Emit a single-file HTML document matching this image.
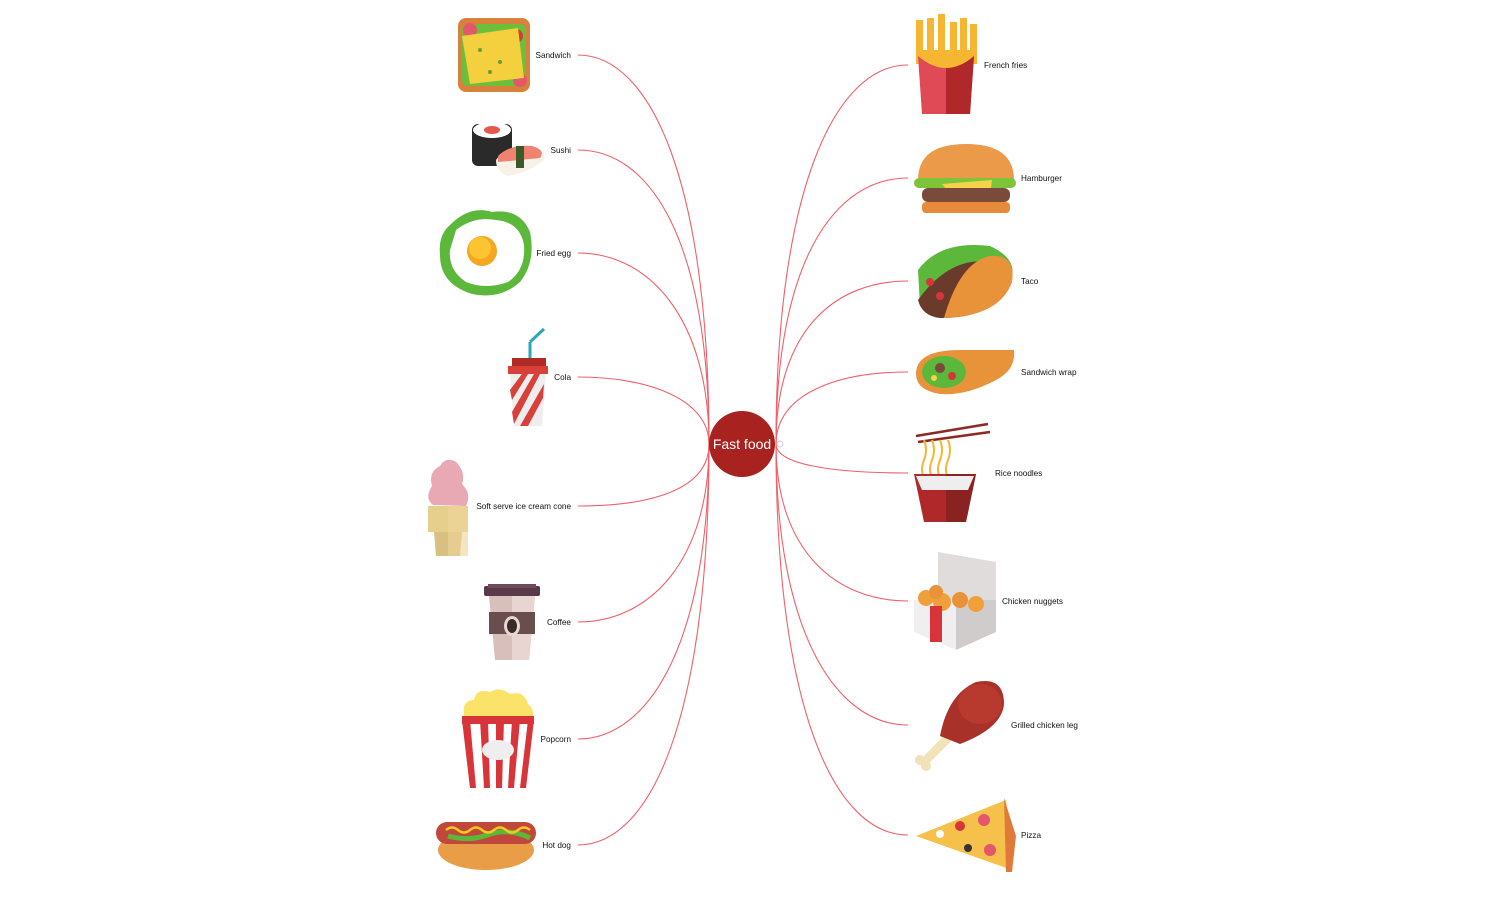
<!DOCTYPE html>
<html><head><meta charset="utf-8"><style>
html,body{margin:0;padding:0;background:#fff;}
svg{display:block;font-family:"Liberation Sans",Arial,sans-serif;}
.l{font-size:8.2px;fill:#111;}
.c{fill:none;stroke:#f0606a;stroke-width:1.1;}
</style></head><body>
<svg width="1500" height="903" viewBox="0 0 1500 903" xmlns="http://www.w3.org/2000/svg">
<g class="c">
<path d="M578,55 C650,55 709,180 709,444"/>
<path d="M578,150 C650,150 709,240 709,444"/>
<path d="M578,253 C650,253 709,320 709,444"/>
<path d="M578,377 C650,377 709,400 709,444"/>
<path d="M578,506 C650,506 709,490 709,444"/>
<path d="M578,622 C650,622 709,560 709,444"/>
<path d="M578,739 C650,739 709,640 709,444"/>
<path d="M578,845 C650,845 709,720 709,444"/>
<path d="M908,65 C835,65 776,190 776,444"/>
<path d="M908,178 C835,178 776,260 776,444"/>
<path d="M908,281 C835,281 776,330 776,444"/>
<path d="M908,372 C835,372 776,395 776,444"/>
<path d="M908,473 C835,473 776,465 776,444"/>
<path d="M908,601 C835,601 776,550 776,444"/>
<path d="M908,725 C835,725 776,630 776,444"/>
<path d="M908,835 C835,835 776,710 776,444"/>
</g>
<circle cx="742" cy="444" r="33" fill="#a8221f"/>
<text x="742" y="449" text-anchor="middle" font-size="14" fill="#fff">Fast food</text>
<circle cx="780" cy="444" r="3" fill="none" stroke="#bbb" stroke-width="0.8"/>

<g class="l">
<text x="571" y="58" text-anchor="end">Sandwich</text>
<text x="571" y="153" text-anchor="end">Sushi</text>
<text x="571" y="256" text-anchor="end">Fried egg</text>
<text x="571" y="380" text-anchor="end">Cola</text>
<text x="571" y="509" text-anchor="end">Soft serve ice cream cone</text>
<text x="571" y="625" text-anchor="end">Coffee</text>
<text x="571" y="742" text-anchor="end">Popcorn</text>
<text x="571" y="848" text-anchor="end">Hot dog</text>
<text x="984" y="68">French fries</text>
<text x="1021" y="181">Hamburger</text>
<text x="1021" y="284">Taco</text>
<text x="1021" y="375">Sandwich wrap</text>
<text x="995" y="476">Rice noodles</text>
<text x="1002" y="604">Chicken nuggets</text>
<text x="1011" y="728">Grilled chicken leg</text>
<text x="1021" y="838">Pizza</text>
</g>

<!-- Sandwich -->
<g>
<rect x="458" y="18" width="72" height="74" rx="8" fill="#d9803c"/>
<rect x="462" y="24" width="64" height="62" rx="6" fill="#6bbf3a"/>
<circle cx="470" cy="30" r="7" fill="#e4576a"/><circle cx="520" cy="80" r="7" fill="#e4576a"/><circle cx="516" cy="36" r="7" fill="#d23c3c"/>
<polygon points="462,36 518,28 524,78 470,84" fill="#f4d03f"/>
<circle cx="480" cy="50" r="2" fill="#6a9e2c"/><circle cx="500" cy="62" r="2" fill="#6a9e2c"/><circle cx="490" cy="72" r="2" fill="#6a9e2c"/>
</g>
<!-- Sushi -->
<g>
<rect x="472" y="124" width="40" height="42" rx="6" fill="#2a2a2a"/>
<ellipse cx="492" cy="130" rx="19" ry="8" fill="#fff"/>
<ellipse cx="492" cy="130" rx="8" ry="4" fill="#e4574a"/>
<path d="M496,160 Q505,146 530,146 Q546,150 544,160 Q530,172 508,176 Q496,172 496,160Z" fill="#f7f1e8"/>
<path d="M498,156 Q510,144 532,146 Q546,150 540,158 Q520,160 498,162Z" fill="#f08270"/>
<rect x="516" y="146" width="8" height="22" fill="#3a5a2a"/>
</g>
<!-- Fried egg -->
<g>
<path d="M450,225 Q470,205 492,212 Q520,208 530,232 Q536,262 520,282 Q500,300 472,294 Q440,284 440,255 Q438,235 450,225Z" fill="#5cb83a"/>
<path d="M456,230 Q474,216 496,220 Q520,222 524,245 Q526,270 508,282 Q486,290 466,282 Q448,270 450,250Z" fill="#fff"/>
<circle cx="482" cy="251" r="15" fill="#f5a623"/><circle cx="480" cy="248" r="11" fill="#fcc431"/>
</g>
<!-- Cola -->
<g>
<line x1="530" y1="360" x2="530" y2="342" stroke="#2aa7b8" stroke-width="3"/>
<line x1="530" y1="342" x2="544" y2="329" stroke="#2aa7b8" stroke-width="3"/>
<rect x="512" y="358" width="34" height="8" fill="#b02a26"/>
<rect x="508" y="366" width="40" height="8" fill="#d8403a"/>
<polygon points="510,374 546,374 542,426 514,426" fill="#eee"/>
<polygon points="510,390 522,374 528,374 512,400" fill="#d8403a"/>
<polygon points="512,412 534,374 540,374 514,424" fill="#d8403a"/>
<polygon points="520,426 544,384 543,398 528,426" fill="#d8403a"/>
</g>
<!-- Ice cream -->
<g>
<path d="M433,505 Q424,498 432,486 Q428,472 440,466 Q446,456 456,462 Q466,472 462,484 Q472,494 466,506Z" fill="#e8a8b4"/>
<rect x="428" y="506" width="40" height="26" fill="#e6cf8c"/>
<polygon points="434,532 462,532 460,556 436,556" fill="#d8c080"/>
<rect x="448" y="506" width="20" height="50" fill="#ecd59a" opacity="0.6"/>
</g>
<!-- Coffee -->
<g>
<rect x="484" y="586" width="56" height="10" rx="2" fill="#5a3a4a"/>
<rect x="488" y="584" width="48" height="4" fill="#6e4a5a"/>
<polygon points="489,596 535,596 529,660 495,660" fill="#d8bfbc"/>
<polygon points="512,596 535,596 529,660 512,660" fill="#e8d4d0"/>
<rect x="489" y="612" width="46" height="22" fill="#6a4e4e"/>
<ellipse cx="512" cy="626" rx="8" ry="10" fill="#e8d8d0"/>
<ellipse cx="512" cy="626" rx="5" ry="7" fill="#3a2a2a"/>
</g>
<!-- Popcorn -->
<g>
<path d="M464,714 Q462,700 474,700 Q476,688 490,692 Q500,686 510,694 Q524,690 528,704 Q536,710 532,720 L464,720Z" fill="#fbe36a"/>
<polygon points="462,720 534,720 526,788 470,788" fill="#fff"/>
<g fill="#d8353a"><polygon points="462,720 470,720 476,788 470,788"/><polygon points="480,720 488,720 490,788 484,788"/><polygon points="496,720 504,720 502,788 496,788"/><polygon points="512,720 520,720 514,788 508,788"/><polygon points="528,720 534,720 526,788 520,788"/></g>
<rect x="462" y="716" width="72" height="8" fill="#d8353a"/>
<ellipse cx="498" cy="750" rx="16" ry="10" fill="#eee"/>
</g>
<!-- Hot dog -->
<g>
<ellipse cx="486" cy="850" rx="48" ry="20" fill="#e99d47"/>
<rect x="436" y="822" width="100" height="22" rx="11" fill="#c0473a"/>
<path d="M448,836 Q470,842 490,834 Q510,828 530,838" fill="none" stroke="#5cb83a" stroke-width="5"/>
<path d="M446,830 q6,-5 12,0 t12,0 t12,0 t12,0 t12,0 t12,0 t12,0" fill="none" stroke="#f7c81e" stroke-width="2.5"/>
</g>

<!-- French fries -->
<g>
<g fill="#f6b631"><rect x="916" y="20" width="7" height="44"/><rect x="927" y="18" width="7" height="46"/><rect x="938" y="14" width="7" height="50"/><rect x="950" y="22" width="7" height="42"/><rect x="960" y="18" width="7" height="46"/><rect x="970" y="24" width="7" height="40"/></g>
<polygon points="918,56 974,56 970,114 922,114" fill="#e04a56"/>
<polygon points="946,56 974,56 970,114 946,114" fill="#b0282a"/>
<path d="M918,56 Q946,80 974,56 L974,50 L918,50Z" fill="#f6b631"/>
</g>
<!-- Hamburger -->
<g>
<path d="M918,180 Q918,144 966,144 Q1014,144 1014,180Z" fill="#eb9a4a"/>
<rect x="914" y="178" width="102" height="10" rx="5" fill="#7cc53a"/>
<polygon points="942,184 992,180 990,196 950,194" fill="#f6d14a"/>
<rect x="922" y="188" width="88" height="14" rx="6" fill="#7a4a3a"/>
<rect x="922" y="202" width="88" height="11" rx="4" fill="#e78a3a"/>
</g>
<!-- Taco -->
<g>
<path d="M918,270 Q940,240 990,246 Q1016,258 1012,276 L920,306Z" fill="#5cb83a"/>
<path d="M918,300 Q950,256 990,262 Q1018,270 1008,290 Q990,318 940,318 Q922,316 918,300Z" fill="#6a3a2a"/>
<path d="M944,318 Q960,262 990,256 Q1016,254 1012,282 Q1000,316 944,318Z" fill="#e8923a"/>
<circle cx="930" cy="282" r="4" fill="#d8353a"/><circle cx="940" cy="296" r="4" fill="#d8353a"/>
</g>
<!-- Sandwich wrap -->
<g>
<path d="M916,374 Q916,350 960,350 L1014,350 Q1016,370 996,380 Q966,396 940,394 Q916,390 916,374Z" fill="#e8923a"/>
<ellipse cx="944" cy="372" rx="26" ry="20" fill="#e8923a"/>
<ellipse cx="944" cy="372" rx="22" ry="16" fill="#5cb83a"/>
<circle cx="940" cy="368" r="5" fill="#7a4a3a"/><circle cx="952" cy="376" r="4" fill="#d8353a"/><circle cx="934" cy="378" r="3" fill="#f6d14a"/>
</g>
<!-- Rice noodles -->
<g>
<line x1="916" y1="436" x2="988" y2="424" stroke="#8a2a22" stroke-width="2.5"/>
<line x1="918" y1="442" x2="990" y2="432" stroke="#8a2a22" stroke-width="2.5"/>
<path d="M924,440 q4,10 0,20 q-4,10 0,18 M932,440 q4,10 0,20 q-4,10 0,18 M940,440 q4,10 0,20 q-4,10 0,18 M948,440 q4,10 0,20 q-4,10 0,18" fill="none" stroke="#f6b631" stroke-width="2"/>
<polygon points="914,474 976,474 966,522 924,522" fill="#b0282a"/>
<polygon points="946,474 976,474 966,522 946,522" fill="#8a2222"/>
<polygon points="916,476 974,476 968,490 922,490" fill="#eee"/>
</g>
<!-- Chicken nuggets -->
<g>
<polygon points="938,552 996,562 996,600 938,600" fill="#e0dcdc"/>
<polygon points="914,600 956,600 956,650 914,632" fill="#f0eeee"/>
<polygon points="956,600 996,600 996,632 956,650" fill="#d0cccc"/>
<circle cx="926" cy="598" r="8" fill="#f0a03a"/><circle cx="942" cy="602" r="9" fill="#f0a03a"/><circle cx="960" cy="600" r="8" fill="#e8923a"/><circle cx="976" cy="604" r="8" fill="#f0a03a"/><circle cx="936" cy="592" r="7" fill="#e8923a"/>
<rect x="930" y="606" width="12" height="36" fill="#d8353a"/>
</g>
<!-- Chicken leg -->
<g>
<line x1="924" y1="762" x2="952" y2="734" stroke="#f1e2b8" stroke-width="9" stroke-linecap="round"/>
<circle cx="920" cy="760" r="5" fill="#f1e2b8"/><circle cx="926" cy="766" r="5" fill="#f1e2b8"/>
<path d="M940,736 Q948,694 976,682 Q1004,676 1004,704 Q1002,728 960,744Z" fill="#a8322a"/>
<ellipse cx="980" cy="704" rx="22" ry="20" fill="#b83a2e"/>
</g>
<!-- Pizza -->
<g>
<polygon points="916,836 1006,800 1012,870" fill="#f6c14a"/>
<polygon points="1004,798 1016,836 1012,872 1006,872" fill="#e07a3a"/>
<circle cx="984" cy="820" r="6" fill="#e4576a"/><circle cx="990" cy="850" r="6" fill="#e4576a"/><circle cx="960" cy="826" r="5" fill="#d8353a"/><circle cx="968" cy="848" r="4" fill="#333"/><circle cx="940" cy="834" r="4" fill="#fff"/>
</g>
</svg>
</body></html>
